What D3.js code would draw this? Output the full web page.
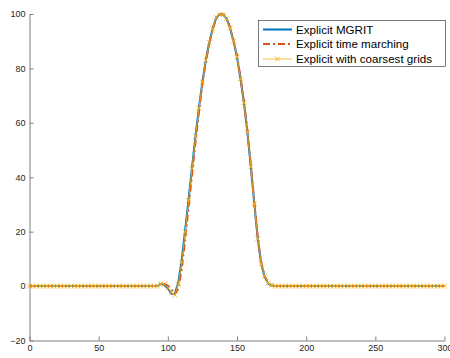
<!DOCTYPE html>
<html>
<head>
<meta charset="utf-8">
<script src="https://cdn.jsdelivr.net/npm/d3@7"></script>
<style>
  html, body { margin: 0; padding: 0; background: #fff; }
  svg { display: block; }
</style>
</head>
<body>
<svg id="chart" width="450" height="358"></svg>
<script>
// grid spacing of the plotted points (x = 0, 2.5, ..., 300)
const step = 2.5;

// Explicit MGRIT
const mgrit = [
  0,0,0,0,0,0,0,0,0,0, 0,0,0,0,0,0,0,0,0,0,
  0,0,0,0,0,0,0,0,0,0, 0,0,0,0,0,0,0,0,
  0.8, 0.4, -0.8, -2.8, -2.9, 1.2, 9.5, 20.5, 32.0, 43.6,
  55.2, 65.6, 75.1, 83.1, 89.6, 94.7, 98.6, 99.9, 99.8, 98.3,
  94.8, 90.0, 84.2, 76.2, 67.4, 56.6, 43.8, 30.3, 17.4, 8.2,
  3.4, 1.0, 0.2,
  0,0,0,0,0,0,0,0,0,0, 0,0,0,0,0,0,0,0,0,0,
  0,0,0,0,0,0,0,0,0,0, 0,0,0,0,0,0,0,0,0,0,
  0,0,0,0,0,0,0,0,0,0
];

// Explicit time marching
const marching = [
  0,0,0,0,0,0,0,0,0,0, 0,0,0,0,0,0,0,0,0,0,
  0,0,0,0,0,0,0,0,0,0, 0,0,0,0,0,0,0,0,
  0.9, 0.8, 0.2, -1.2, -3.0, -1.0, 6.0, 17.0, 29.0, 41.0,
  53.0, 64.0, 74.2, 82.6, 89.3, 94.5, 98.5, 99.9, 99.9, 98.5,
  95.0, 90.3, 84.6, 76.8, 68.0, 57.3, 44.5, 30.8, 17.8, 8.6,
  3.7, 1.2, 0.3,
  0,0,0,0,0,0,0,0,0,0, 0,0,0,0,0,0,0,0,0,0,
  0,0,0,0,0,0,0,0,0,0, 0,0,0,0,0,0,0,0,0,0,
  0,0,0,0,0,0,0,0,0,0
];

// Explicit with coarsest grids
const coarse = [
  0,0,0,0,0,0,0,0,0,0, 0,0,0,0,0,0,0,0,0,0,
  0,0,0,0,0,0,0,0,0,0, 0,0,0,0,0,0,0,0,
  0.9, 0.6, -0.6, -2.4, -3.3, 0.6, 8.8, 19.9, 31.5, 43.2,
  55.0, 65.4, 75.0, 83.0, 89.5, 94.6, 98.8, 99.9, 99.8, 98.3,
  94.8, 90.0, 84.2, 76.2, 67.4, 56.6, 43.8, 30.3, 17.4, 8.2,
  3.6, 1.1, 0.3,
  0,0,0,0,0,0,0,0,0,0, 0,0,0,0,0,0,0,0,0,0,
  0,0,0,0,0,0,0,0,0,0, 0,0,0,0,0,0,0,0,0,0,
  0,0,0,0,0,0,0,0,0,0
];

const xTicks = [0, 50, 100, 150, 200, 250, 300];
const yTicks = [-20, 0, 20, 40, 60, 80, 100];
const legendLabels = ["Explicit MGRIT", "Explicit time marching", "Explicit with coarsest grids"];

const colors = ["#0072BD", "#D95319", "#EDB120"];

let svg = d3.select("#chart");
let x = d3.scaleLinear().domain([0, 300]).range([29.5, 444.5]);
let y = d3.scaleLinear().domain([-20, 100]).range([340.5, 14]);

let font = "Helvetica, 'Liberation Sans', Arial, sans-serif";

// axes (no box)
let xAxis = svg.append("g")
    .attr("transform", "translate(0,340.5)")
    .call(d3.axisBottom(x).tickValues(xTicks).tickSizeInner(-4).tickSizeOuter(0).tickPadding(4));
let yAxis = svg.append("g")
    .attr("transform", "translate(29.5,0)")
    .call(d3.axisLeft(y).tickValues(yTicks).tickSizeInner(-4).tickSizeOuter(0).tickPadding(4));
[xAxis, yAxis].forEach(a => {
    a.select(".domain").attr("stroke", "#7f7f7f").attr("stroke-width", 1);
    a.selectAll(".tick line").attr("stroke", "#7f7f7f");
    a.selectAll("text").attr("fill", "#262626").style("font-family", font).style("font-size", "9px");
});

let toPts = vals => vals.map((v, i) => [i * step, v]);
let line = d3.line().x(d => x(d[0])).y(d => y(d[1]));

let plot = svg.append("g");

plot.append("path")
    .attr("d", line(toPts(mgrit)))
    .attr("fill", "none")
    .attr("stroke", colors[0])
    .attr("stroke-width", 2)
    .attr("stroke-linejoin", "round");

plot.append("path")
    .attr("d", line(toPts(marching)))
    .attr("fill", "none")
    .attr("stroke", colors[1])
    .attr("stroke-width", 2)
    .attr("stroke-dasharray", "7,3,2,3");

plot.append("path")
    .attr("d", line(toPts(coarse)))
    .attr("fill", "none")
    .attr("stroke", colors[2])
    .attr("stroke-width", 0.8);

let m = 2.4;
let cross = `M${-m},${-m}L${m},${m}M${-m},${m}L${m},${-m}`;
plot.selectAll("path.marker")
    .data(toPts(coarse))
    .enter().append("path")
    .attr("class", "marker")
    .attr("transform", d => `translate(${x(d[0])},${y(d[1])})`)
    .attr("d", cross)
    .attr("fill", "none")
    .attr("stroke", colors[2])
    .attr("stroke-width", 0.9);

// legend
let lg = svg.append("g");
lg.append("rect")
    .attr("x", 258.5).attr("y", 20.5)
    .attr("width", 187).attr("height", 46)
    .attr("fill", "#fff")
    .attr("stroke", "#262626")
    .attr("stroke-width", 0.6);

let rowY = [29.5, 44, 59];
legendLabels.forEach((label, i) => {
    let l = lg.append("line")
        .attr("x1", 263).attr("x2", 292)
        .attr("y1", rowY[i]).attr("y2", rowY[i])
        .attr("stroke", colors[i])
        .attr("stroke-width", i === 2 ? 0.8 : 2);
    if (i === 1) l.attr("stroke-dasharray", "7,3,2,3");
    if (i === 2) {
        lg.append("path")
            .attr("transform", `translate(277.5,${rowY[i]})`)
            .attr("d", cross)
            .attr("fill", "none")
            .attr("stroke", colors[2])
            .attr("stroke-width", 0.9);
    }
    lg.append("text")
        .attr("x", 296).attr("y", rowY[i])
        .attr("dy", "0.36em")
        .attr("fill", "#000")
        .style("font-family", font)
        .style("font-size", "11.6px")
        .text(label);
});
</script>
</body>
</html>
